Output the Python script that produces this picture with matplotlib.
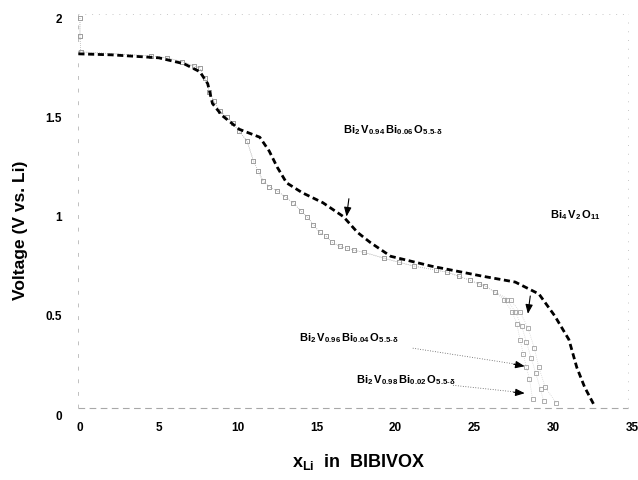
import numpy as np
import matplotlib
matplotlib.use('Agg')
import matplotlib.pyplot as plt

plt.rcParams['font.family'] = ['Liberation Sans', 'DejaVu Sans']
plt.rcParams['mathtext.fontset'] = 'custom'
plt.rcParams['mathtext.rm'] = 'Liberation Sans'
plt.rcParams['mathtext.bf'] = 'Liberation Sans:bold'

# ── data ─────────────────────────────────────────────────────────────────────
# Bi4V2O11 (black dashed curve)
x_bivox = [-0.1, 2.0, 5.0, 6.6, 7.6, 8.1, 8.4, 9.0, 10.1, 11.4, 12.0, 12.5, 13.1,
           14.1, 15.4, 16.7, 17.6, 18.4, 19.7, 22.3, 25.5, 27.6, 29.1, 30.1,
           31.0, 31.5, 32.0, 32.6]
y_bivox = [1.82, 1.815, 1.80, 1.77, 1.73, 1.67, 1.57, 1.51, 1.44, 1.40, 1.33, 1.25,
           1.17, 1.12, 1.07, 1.00, 0.92, 0.87, 0.80, 0.75, 0.70, 0.67, 0.61,
           0.50, 0.38, 0.24, 0.14, 0.05]

# doped samples (open squares): shared first part, then separate tails
x_common = [0.0, 0.0, 0.05, 4.5, 5.5, 6.5, 7.2, 7.6, 7.9, 8.2, 8.5, 8.9, 9.3, 9.7,
            10.1, 10.6, 11.0, 11.3, 11.6, 12.0, 12.5, 13.0, 13.5, 14.0, 14.4,
            14.8, 15.2, 15.6, 16.0, 16.5, 16.9, 17.4, 18.0, 19.3, 20.2, 21.2,
            22.6, 23.3, 24.0, 24.7, 25.3, 25.7, 26.3]
y_common = [2.0, 1.91, 1.83, 1.81, 1.80, 1.78, 1.76, 1.75, 1.70, 1.63, 1.58, 1.53,
            1.50, 1.47, 1.43, 1.38, 1.28, 1.23, 1.18, 1.15, 1.13, 1.10, 1.07,
            1.03, 1.00, 0.96, 0.92, 0.90, 0.87, 0.85, 0.84, 0.83, 0.82, 0.79,
            0.77, 0.75, 0.73, 0.72, 0.70, 0.68, 0.66, 0.65, 0.62]

x_tail_002 = [26.9, 27.4, 27.7, 27.9, 28.1, 28.3, 28.5, 28.7]
y_tail_002 = [0.58, 0.52, 0.46, 0.38, 0.31, 0.24, 0.18, 0.08]
x_tail_004 = [27.1, 27.6, 28.0, 28.3, 28.6, 28.9, 29.2, 29.4]
y_tail_004 = [0.58, 0.52, 0.45, 0.37, 0.29, 0.21, 0.13, 0.07]
x_tail_006 = [27.3, 27.9, 28.4, 28.8, 29.1, 29.5, 30.2]
y_tail_006 = [0.58, 0.52, 0.44, 0.34, 0.24, 0.14, 0.06]

x_ticks = [0, 5, 10, 15, 20, 25, 30, 35]
y_ticks = [0, 0.5, 1, 1.5, 2]
y_ticklabels = ['0', '0.5', '1', '1.5', '2']

# ── figure ───────────────────────────────────────────────────────────────────
fig = plt.figure(figsize=(6.38, 4.8), dpi=100, facecolor='white')
ax = fig.add_axes([0.1006, 0.1229, 0.890, 0.860])
ax.set_xlim(-1, 35)
ax.set_ylim(-0.03, 2.05)

for spine in ax.spines.values():
    spine.set_visible(False)

# faint scanned frame
ax.plot([-0.13, 34.75], [0.035, 0.035], color='#a8a8a8', lw=0.8,
        linestyle=(0, (6, 4)), zorder=1)
ax.plot([-0.13, 34.75], [2.02, 2.02], color='#c8c8c8', lw=0.7,
        linestyle=(0, (1, 6)), zorder=1)
ax.plot([-0.13, -0.13], [0.035, 2.02], color='#c0c0c0', lw=0.7,
        linestyle=(0, (4, 9)), zorder=1)
ax.plot([34.75, 34.75], [0.035, 2.02], color='#c8c8c8', lw=0.7,
        linestyle=(0, (1, 8)), zorder=1)

# doped samples
sq_kw = dict(marker='s', markersize=3.2, markerfacecolor='none',
             markeredgecolor='#a0a0a0', markeredgewidth=0.6,
             color='#c4c4c4', lw=0.5, linestyle=(0, (1, 2)), zorder=3)
for xt, yt in [(x_tail_002, y_tail_002), (x_tail_004, y_tail_004),
               (x_tail_006, y_tail_006)]:
    ax.plot(np.r_[x_common, xt], np.r_[y_common, yt], **sq_kw)

# Bi4V2O11
ax.plot(x_bivox, y_bivox, color='black', lw=2.0, linestyle=(0, (2.2, 1.3)),
        zorder=4)

# labels
lab_kw = dict(fontsize=8, color='black', ha='left', va='center', zorder=6)
ax.text(16.7, 1.435, r'$\mathbf{Bi_{2}\,V_{0.94}\,Bi_{0.06}\,O_{5.5\text{-}\delta}}$', **lab_kw)
ax.text(29.8, 1.01, r'$\mathbf{Bi_{4}\,V_{2}\,O_{11}}$', **lab_kw)
ax.text(13.9, 0.39, r'$\mathbf{Bi_{2}\,V_{0.96}\,Bi_{0.04}\,O_{5.5\text{-}\delta}}$', **lab_kw)
ax.text(17.5, 0.175, r'$\mathbf{Bi_{2}\,V_{0.98}\,Bi_{0.02}\,O_{5.5\text{-}\delta}}$', **lab_kw)

# dotted leaders + arrow heads
ax.plot([21.1, 28.0], [0.337, 0.252], color='#555555', lw=0.6,
        linestyle=(0, (1, 2)), zorder=5)
ax.plot([23.65, 28.0], [0.15, 0.113], color='#555555', lw=0.6,
        linestyle=(0, (1, 2)), zorder=5)
arr = dict(arrowstyle='-|>,head_length=0.55,head_width=0.22', color='black',
           lw=0.8, shrinkA=0, shrinkB=0)
ax.annotate('', xy=(28.2, 0.246), xytext=(27.5, 0.256), arrowprops=arr, zorder=6)
ax.annotate('', xy=(28.2, 0.110), xytext=(27.5, 0.115), arrowprops=arr, zorder=6)
ax.annotate('', xy=(16.9, 1.0), xytext=(17.05, 1.09), arrowprops=arr, zorder=6)
ax.annotate('', xy=(28.4, 0.51), xytext=(28.55, 0.60), arrowprops=arr, zorder=6)

# ticks
ax.set_xticks(x_ticks)
ax.set_xticklabels([str(t) for t in x_ticks], fontsize=8.5, fontweight='bold')
ax.set_yticks(y_ticks)
ax.set_yticklabels(y_ticklabels, fontsize=8.5, fontweight='bold')
ax.tick_params(axis='both', length=0)
ax.tick_params(axis='x', pad=1)
ax.tick_params(axis='y', pad=1.5)

fig.text(0.032, 0.521, 'Voltage (V vs. Li)', rotation=90, ha='center',
         va='center', fontsize=12.5, fontweight='bold')
fig.text(0.563, 0.028, r'$\mathbf{x_{Li}}$  in  BIBIVOX', ha='center',
         va='baseline', fontsize=13, fontweight='bold')

fig.savefig('out.png', dpi=100, facecolor='white')
